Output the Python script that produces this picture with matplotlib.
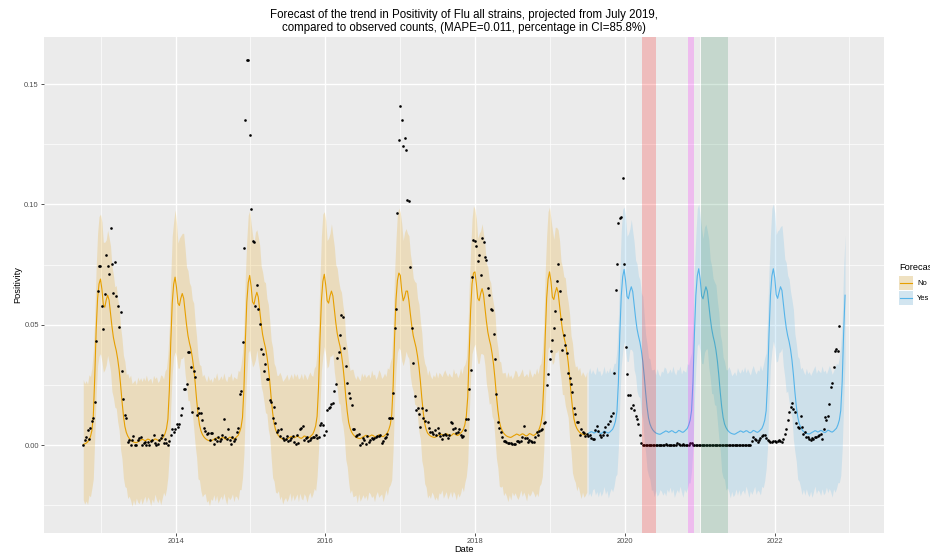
import numpy as np
import pandas as pd
import matplotlib
matplotlib.use('Agg')
import matplotlib.pyplot as plt
import matplotlib.dates as mdates
from matplotlib.patches import Rectangle
from matplotlib.lines import Line2D

plt.rcParams['font.family'] = ['Liberation Sans', 'DejaVu Sans']

# first Sunday of each block of weekly values
week_start = ['2012-10-07', '2013-01-06', '2014-01-05', '2015-01-04', '2016-01-03',
              '2017-01-01', '2018-01-07', '2019-01-06', '2020-01-05', '2021-01-03',
              '2022-01-02']

# observed positivity, per mille
obs_2012 = [0.0, 2.1, 3.2, 6.2, 2.5, 7.1, 10.2, 11.3, 18.0, 43.1, 64.2, 74.3, 74.6]
obs_2013 = [57.6, 48.2, 62.9, 78.8, 74.6, 71.1, 90.3, 75.3, 63.2, 76.1, 62.1, 57.9, 48.9,
            55.4, 30.7, 19.0, 12.4, 11.1, 1.1, 2.1, 0.0, 2.0, 3.6, 0.0, 0.0, 2.0,
            2.8, 3.5, 0.0, 0.7, 1.4, 0.0, 1.4, 0.0, 1.8, 2.1, 4.2, 1.0, 0.0,
            0.3, 2.1, 3.0, 4.2, 1.0, 2.6, 1.0, 0.0, 1.8, 4.2, 6.7, 5.3, 6.8]
obs_2014 = [8.7, 7.6, 8.7, 12.5, 15.6, 23.3, 23.3, 25.4, 38.5, 38.5, 32.3, 13.7, 30.6,
            28.2, 12.5, 15.6, 13.5, 13.2, 10.4, 7.2, 6.0, 4.6, 4.9, 2.1, 5.0, 5.0,
            0.4, 2.4, 1.8, 3.2, 1.5, 2.4, 4.2, 10.7, 3.5, 2.5, 6.5, 2.2, 0.5,
            3.5, 1.8, 2.4, 5.6, 7.1, 21.2, 22.5, 43.0, 82.0, 135.0, 160.0, 160.0, 128.7]
obs_2015 = [98.0, 85.0, 84.5, 58.0, 66.5, 56.4, 50.3, 40.0, 38.0, 30.7, 33.5, 27.6, 27.6,
            18.7, 17.8, 11.1, 16.0, 9.3, 5.6, 6.3, 3.9, 6.7, 3.0, 2.0, 2.5, 3.8,
            1.7, 2.0, 2.8, 3.8, 1.2, 0.6, 4.2, 1.0, 6.5, 7.0, 8.0, 2.2, 2.8,
            3.4, 1.7, 2.3, 3.0, 3.2, 3.5, 4.0, 2.9, 3.2, 8.5, 9.3, 8.2, 4.0]
obs_2016 = [5.8, 14.7, 15.5, 16.0, 16.9, 17.5, 22.6, 25.6, 36.3, 38.8, 45.6, 54.0, 53.3,
            40.4, 32.9, 25.8, 21.8, 19.7, 16.8, 6.7, 6.7, 3.9, 4.3, 4.8, 0.0, 1.0,
            3.0, 2.0, 0.5, 3.9, 1.2, 2.2, 3.0, 2.5, 2.8, 3.3, 3.6, 3.9, 4.0,
            1.0, 1.5, 3.0, 3.5, 4.5, 11.4, 11.4, 11.4, 21.5, 48.6, 56.7, 96.3, 126.7]
obs_2017 = [141.0, 135.0, 124.2, 127.6, 122.8, 101.9, 101.3, 74.0, 48.8, 34.3, 20.6, 14.6, 15.3,
            12.8, 7.6, 15.3, 11.1, 10.1, 14.4, 9.7, 7.2, 5.3, 5.5, 4.5, 6.4, 4.2,
            7.2, 5.0, 3.6, 2.6, 4.2, 4.6, 4.0, 3.1, 4.2, 9.7, 9.2, 6.5, 7.0,
            5.1, 5.5, 6.7, 4.3, 3.2, 3.8, 6.3, 10.7, 10.7, 23.5, 31.3, 69.9, 85.3, 84.7]
obs_2018 = [82.8, 76.5, 78.8, 70.6, 86.0, 84.3, 78.3, 76.8, 65.1, 62.2, 56.7, 56.0, 46.0,
            35.7, 21.2, 9.7, 7.0, 5.3, 3.5, 1.8, 1.8, 1.4, 1.0, 1.0, 0.7, 0.4,
            0.3, 0.6, 1.8, 1.5, 1.1, 1.5, 3.2, 8.0, 3.0, 3.1, 1.4, 2.1, 1.7,
            1.4, 1.1, 3.5, 5.3, 4.4, 6.0, 6.3, 6.6, 9.3, 9.5, 25.0, 29.6, 35.7]
obs_2019 = [39.3, 43.5, 48.6, 55.6, 68.4, 75.4, 64.1, 52.3, 39.6, 45.8, 41.7, 38.2, 29.9,
            27.8, 25.3, 22.2, 15.3, 12.9, 9.5, 9.5, 4.2, 6.7, 5.3, 4.9, 3.8, 4.6,
            3.7, 4.4, 2.9, 2.4, 2.7, 6.2, 7.9, 5.8, 4.4, 3.5, 4.4, 5.5, 7.5,
            4.4, 8.9, 10.0, 12.3, 13.4, 30.1, 64.3, 75.4, 92.4, 94.5, 94.9, 110.8, 75.4]
obs_2020 = [40.6, 29.6, 20.9, 20.9, 15.5, 16.6, 14.5, 12.3, 10.7, 8.6, 4.0, 1.0, 0.0,
            0.0, 0.0, 0.0, 0.0, 0.0, 0.0, 0.0, 0.0, 0.0, 0.0, 0.0, 0.0, 0.0,
            0.0, 0.0, 0.3, 0.0, 0.0, 0.0, 0.0, 0.0, 0.0, 0.0, 0.8, 0.3, 0.0,
            0.0, 0.6, 0.0, 0.0, 0.0, 0.0, 0.9, 0.8, 0.0, 0.0, 0.0, 0.0, 0.0]
obs_2021 = [0.0, 0.0, 0.0, 0.0, 0.2, 0.0, 0.0, 0.0, 0.0, 0.0, 0.0, 0.0, 0.0,
            0.0, 0.0, 0.0, 0.2, 0.0, 0.0, 0.0, 0.0, 0.0, 0.0, 0.0, 0.2, 0.0,
            0.0, 0.0, 0.0, 0.0, 0.0, 0.0, 0.0, 0.0, 0.0, 0.0, 1.7, 3.5, 2.6,
            2.1, 1.2, 2.1, 3.0, 3.7, 4.3, 4.0, 2.9, 2.1, 1.5, 1.2, 1.2, 1.5]
obs_2022 = [1.5, 1.2, 1.8, 2.1, 1.8, 1.4, 2.4, 4.8, 6.9, 10.4, 13.7, 15.9, 17.6,
            15.0, 13.6, 9.3, 7.6, 7.1, 12.0, 7.6, 4.8, 5.3, 3.5, 3.2, 2.6, 2.1,
            2.8, 2.6, 3.2, 3.5, 3.9, 4.2, 4.6, 2.4, 6.9, 11.8, 10.4, 12.0, 17.2,
            24.1, 25.8, 32.4, 38.9, 40.0, 39.0, 49.7]

# fitted / projected trend, per mille
trend_2012 = [0.3, 0.5, 0.8, 1.3, 2.2, 3.5, 6.0, 12.0, 28.0, 48.0, 61.0, 67.0, 69.0]
trend_2013 = [64.8, 58.3, 57.3, 60.3, 62.3, 60.3, 54.8, 49.3, 44.8, 41.8, 39.3, 35.8, 31.3,
              25.3, 18.3, 12.3, 7.8, 5.3, 3.8, 2.8, 2.1, 1.6, 1.3, 1.1, 1.0, 1.3,
              1.7, 2.0, 2.4, 2.2, 1.8, 2.1, 2.5, 2.3, 1.8, 1.6, 2.0, 2.6, 2.4,
              2.0, 1.8, 2.2, 2.8, 3.4, 4.8, 6.8, 10.8, 22.8, 42.8, 58.8, 66.8, 69.8]
trend_2014 = [65.5, 59.0, 58.0, 61.0, 63.0, 61.0, 55.5, 50.0, 45.5, 42.5, 40.0, 36.5, 32.0,
              26.0, 19.0, 13.0, 8.5, 6.0, 4.5, 3.5, 2.8, 2.3, 2.0, 1.8, 1.7, 2.0,
              2.4, 2.7, 3.1, 2.9, 2.5, 2.8, 3.2, 3.0, 2.5, 2.3, 2.7, 3.3, 3.1,
              2.7, 2.5, 2.9, 3.5, 4.1, 5.5, 7.5, 11.5, 23.5, 43.5, 59.5, 67.5, 70.5]
trend_2015 = [66.0, 59.5, 58.5, 61.5, 63.5, 61.5, 56.0, 50.5, 46.0, 43.0, 40.5, 37.0, 32.5,
              26.5, 19.5, 13.5, 9.0, 6.5, 5.0, 4.0, 3.3, 2.8, 2.5, 2.3, 2.2, 2.5,
              2.9, 3.2, 3.6, 3.4, 3.0, 3.3, 3.7, 3.5, 3.0, 2.8, 3.2, 3.8, 3.6,
              3.2, 3.0, 3.4, 4.0, 4.6, 6.0, 8.0, 12.0, 24.0, 44.0, 60.0, 68.0, 71.0]
trend_2016 = [66.5, 60.0, 59.0, 62.0, 64.0, 62.0, 56.5, 51.0, 46.5, 43.5, 41.0, 37.5, 33.0,
              27.0, 20.0, 14.0, 9.5, 7.0, 5.5, 4.5, 3.8, 3.3, 3.0, 2.8, 2.7, 3.0,
              3.4, 3.7, 4.1, 3.9, 3.5, 3.8, 4.2, 4.0, 3.5, 3.3, 3.7, 4.3, 4.1,
              3.7, 3.5, 3.9, 4.5, 5.1, 6.5, 8.5, 12.5, 24.5, 44.5, 60.5, 68.5, 71.5]
trend_2017 = [70.5, 64.0, 60.0, 61.5, 64.0, 64.0, 60.0, 54.5, 49.5, 45.5, 43.0, 40.5, 37.0,
              32.5, 26.5, 19.5, 13.5, 9.0, 6.5, 5.0, 4.3, 3.8, 3.5, 3.3, 3.2, 3.5,
              3.9, 4.2, 4.6, 4.4, 4.0, 4.3, 4.7, 4.5, 4.0, 3.8, 4.2, 4.8, 4.6,
              4.2, 4.0, 4.4, 5.0, 5.6, 6.6, 8.5, 12.0, 20.0, 38.0, 56.0, 67.0, 71.5, 72.0]
trend_2018 = [67.0, 61.0, 60.0, 63.0, 65.0, 62.5, 57.0, 51.5, 47.0, 44.0, 41.5, 38.0, 33.5,
              27.5, 20.5, 14.5, 10.0, 7.5, 6.0, 5.0, 4.3, 3.8, 3.5, 3.3, 3.2, 3.5,
              3.9, 4.2, 4.6, 4.4, 4.0, 4.3, 4.7, 4.5, 4.0, 3.8, 4.2, 4.8, 4.6,
              4.2, 4.0, 4.4, 5.0, 5.6, 7.0, 9.0, 13.0, 25.0, 45.0, 61.0, 69.0, 72.0]
trend_2019 = [68.0, 61.5, 60.5, 63.5, 65.5, 63.5, 58.0, 52.5, 48.0, 45.0, 42.5, 39.0, 34.5,
              28.5, 21.5, 15.5, 11.0, 8.5, 7.0, 6.0, 5.3, 4.8, 4.5, 4.3, 4.2, 4.5,
              4.9, 5.2, 5.6, 5.4, 5.0, 5.3, 5.7, 5.5, 5.0, 4.8, 5.2, 5.8, 5.6,
              5.2, 5.0, 5.4, 6.0, 6.6, 8.0, 10.0, 14.0, 26.0, 46.0, 62.0, 70.0, 73.0]
trend_2020 = [68.3, 61.8, 60.8, 63.8, 65.8, 63.8, 58.3, 52.8, 48.3, 45.3, 42.8, 39.3, 34.8,
              28.8, 21.8, 15.8, 11.3, 8.8, 7.3, 6.3, 5.6, 5.1, 4.8, 4.6, 4.5, 4.8,
              5.2, 5.5, 5.9, 5.7, 5.3, 5.6, 6.0, 5.8, 5.3, 5.1, 5.5, 6.1, 5.9,
              5.5, 5.3, 5.7, 6.3, 6.9, 8.3, 10.3, 14.3, 26.3, 46.3, 62.3, 70.3, 73.3]
trend_2021 = [69.0, 62.0, 60.8, 63.5, 65.8, 64.0, 58.5, 53.0, 48.5, 45.3, 42.8, 39.5, 35.0,
              29.0, 22.0, 16.0, 11.5, 8.8, 7.3, 6.3, 5.6, 5.1, 4.8, 4.6, 4.5, 4.8,
              5.2, 5.5, 5.9, 5.7, 5.3, 5.6, 6.0, 5.8, 5.3, 5.1, 5.5, 6.1, 5.9,
              5.5, 5.3, 5.7, 6.3, 6.9, 8.3, 10.3, 14.3, 26.3, 46.3, 62.3, 70.3, 73.3]
trend_2022 = [69.5, 62.5, 61.0, 63.5, 65.8, 64.3, 58.8, 53.3, 48.8, 45.5, 43.0, 39.8, 35.3,
              29.3, 22.3, 16.3, 11.8, 9.0, 7.5, 6.4, 5.7, 5.2, 4.9, 4.7, 4.6, 4.9,
              5.3, 5.6, 6.0, 5.8, 5.4, 5.7, 6.1, 5.9, 5.4, 5.2, 5.6, 6.2, 6.0,
              5.6, 5.4, 5.8, 6.4, 7.0, 8.4, 10.4, 14.4, 26.4, 46.4, 62.3]

# distance from the trend up to the top of the interval, per mille
ci_up_2012 = [27, 25, 26, 24, 27, 25, 26, 27, 25, 26, 27, 28, 27]
ci_up_2013 = [28, 26, 27, 25, 27, 26, 28, 25, 26, 24, 27, 25, 26,
              24, 26, 25, 27, 24, 26, 25, 27, 24, 25, 26, 24, 27,
              25, 26, 24, 26, 25, 27, 24, 25, 26, 24, 27, 25, 26,
              24, 25, 27, 26, 24, 26, 25, 27, 26, 27, 28, 26, 28]
ci_up_2014 = [27, 25, 28, 26, 25, 27, 26, 24, 27, 25, 26, 24, 27,
              25, 26, 24, 25, 27, 24, 26, 25, 24, 27, 25, 26, 24,
              26, 25, 27, 24, 25, 26, 24, 27, 25, 24, 26, 25, 27,
              24, 26, 25, 24, 27, 25, 26, 27, 25, 27, 26, 28, 27]
ci_up_2015 = [26, 28, 25, 27, 26, 25, 27, 24, 26, 25, 27, 24, 26,
              25, 24, 27, 25, 26, 24, 25, 27, 26, 24, 25, 26, 27,
              24, 25, 26, 24, 27, 25, 26, 24, 25, 27, 24, 26, 25,
              24, 26, 27, 25, 24, 26, 25, 27, 26, 25, 27, 28, 26]
ci_up_2016 = [27, 25, 27, 26, 28, 25, 26, 24, 27, 25, 24, 26, 25,
              27, 24, 26, 25, 24, 26, 27, 25, 24, 26, 25, 24, 27,
              25, 26, 24, 25, 26, 24, 27, 25, 26, 24, 25, 27, 26,
              24, 25, 26, 24, 27, 25, 26, 24, 26, 27, 25, 28, 27]
ci_up_2017 = [26, 28, 25, 27, 26, 24, 27, 25, 26, 24, 25, 27, 24,
              26, 25, 27, 24, 25, 26, 24, 27, 25, 24, 26, 25, 27,
              24, 26, 25, 24, 26, 27, 25, 24, 26, 25, 24, 27, 25,
              26, 24, 25, 27, 24, 26, 25, 24, 26, 27, 25, 27, 28, 26]
ci_up_2018 = [27, 25, 28, 26, 27, 25, 26, 24, 27, 25, 26, 24, 25,
              27, 24, 26, 25, 27, 24, 25, 26, 24, 27, 25, 26, 24,
              25, 27, 26, 24, 25, 26, 27, 24, 25, 26, 24, 27, 25,
              24, 26, 25, 27, 24, 26, 25, 26, 24, 27, 26, 28, 27]
ci_up_2019 = [26, 28, 25, 27, 25, 26, 27, 24, 26, 25, 27, 24, 25,
              26, 24, 27, 25, 24, 26, 25, 27, 24, 26, 25, 24, 26,
              25, 27, 24, 26, 25, 24, 27, 25, 26, 24, 25, 27, 24,
              26, 25, 27, 24, 25, 26, 24, 26, 27, 25, 27, 28, 26]
ci_up_2020 = [27, 25, 27, 26, 28, 25, 26, 24, 27, 25, 26, 24, 27,
              25, 24, 26, 25, 27, 24, 25, 26, 24, 27, 25, 24, 26,
              25, 27, 26, 24, 25, 26, 24, 27, 25, 24, 26, 25, 27,
              24, 26, 25, 24, 27, 25, 26, 24, 26, 27, 25, 28, 27]
ci_up_2021 = [26, 28, 25, 27, 26, 25, 27, 24, 26, 24, 25, 27, 25,
              26, 24, 27, 25, 26, 24, 25, 27, 26, 24, 25, 26, 24,
              27, 25, 24, 26, 25, 27, 24, 26, 25, 24, 26, 27, 25,
              24, 26, 25, 27, 24, 25, 26, 24, 27, 26, 25, 28, 27]
ci_up_2022 = [27, 25, 28, 26, 25, 27, 26, 24, 27, 25, 26, 24, 25,
              27, 24, 26, 25, 27, 24, 26, 25, 24, 27, 25, 26, 24,
              25, 26, 27, 24, 26, 25, 24, 27, 25, 26, 24, 25, 27,
              26, 24, 25, 26, 27, 25, 26, 27, 25, 27, 25]

# distance from the trend down to the bottom of the interval, per mille
ci_dn_2012 = [23, 25, 24, 26, 23, 25, 24, 26, 25, 27, 28, 30, 31]
ci_dn_2013 = [30, 28, 26, 27, 25, 26, 24, 27, 25, 26, 24, 26, 25,
              27, 24, 26, 25, 23, 26, 24, 25, 27, 24, 26, 23, 25,
              26, 24, 27, 25, 23, 26, 24, 25, 27, 24, 26, 23, 25,
              26, 24, 27, 25, 23, 26, 25, 24, 26, 27, 29, 30, 31]
ci_dn_2014 = [29, 27, 26, 25, 27, 24, 26, 25, 27, 24, 26, 23, 25,
              26, 24, 27, 23, 25, 26, 24, 23, 26, 25, 27, 24, 25,
              23, 26, 24, 27, 25, 24, 26, 23, 25, 27, 24, 26, 25,
              23, 26, 24, 25, 27, 24, 26, 25, 27, 28, 30, 29, 31]
ci_dn_2015 = [30, 27, 25, 26, 24, 27, 25, 26, 24, 25, 27, 24, 26,
              23, 25, 27, 24, 26, 25, 23, 26, 24, 27, 25, 24, 26,
              25, 23, 27, 24, 26, 25, 24, 27, 23, 25, 26, 24, 25,
              27, 24, 23, 26, 25, 24, 27, 25, 26, 28, 29, 31, 30]
ci_dn_2016 = [29, 28, 26, 25, 27, 24, 26, 25, 23, 26, 24, 27, 25,
              24, 26, 23, 25, 27, 24, 26, 25, 24, 27, 23, 26, 25,
              24, 26, 25, 27, 23, 24, 26, 25, 27, 24, 23, 26, 25,
              24, 27, 25, 23, 26, 24, 25, 27, 26, 27, 29, 30, 31]
ci_dn_2017 = [31, 29, 27, 26, 25, 27, 24, 26, 25, 23, 26, 24, 25,
              27, 24, 26, 23, 25, 24, 27, 25, 26, 23, 24, 26, 25,
              27, 24, 25, 23, 26, 25, 24, 27, 25, 23, 26, 24, 25,
              27, 24, 26, 25, 23, 26, 24, 25, 27, 26, 28, 29, 31, 30]
ci_dn_2018 = [29, 27, 26, 25, 27, 25, 24, 26, 25, 27, 24, 26, 23,
              25, 26, 24, 27, 25, 23, 26, 24, 25, 27, 24, 26, 23,
              25, 24, 26, 27, 25, 23, 26, 24, 25, 27, 24, 26, 25,
              23, 24, 26, 25, 27, 24, 25, 26, 27, 28, 30, 29, 31]
ci_dn_2019 = [30, 28, 26, 25, 27, 24, 26, 25, 27, 24, 26, 25, 23,
              26, 24, 27, 25, 24, 26, 23, 25, 27, 24, 26, 25, 24,
              26, 25, 27, 24, 23, 26, 25, 27, 24, 26, 25, 23, 26,
              24, 27, 25, 24, 26, 25, 23, 26, 27, 28, 29, 31, 30]
ci_dn_2020 = [29, 27, 26, 24, 26, 25, 27, 24, 26, 25, 23, 26, 24,
              27, 25, 26, 24, 23, 26, 25, 27, 24, 26, 25, 23, 24,
              26, 25, 27, 24, 25, 23, 26, 24, 27, 25, 24, 26, 23,
              25, 27, 24, 26, 25, 24, 26, 25, 27, 28, 30, 29, 31]
ci_dn_2021 = [30, 28, 27, 25, 26, 24, 26, 25, 27, 24, 26, 23, 25,
              26, 24, 27, 25, 23, 26, 24, 25, 27, 24, 26, 25, 23,
              26, 24, 27, 25, 24, 26, 23, 25, 27, 24, 26, 25, 23,
              26, 24, 25, 27, 24, 26, 25, 24, 27, 28, 29, 31, 30]
ci_dn_2022 = [29, 28, 26, 25, 27, 24, 26, 25, 27, 23, 25, 26, 24,
              27, 25, 23, 26, 24, 25, 27, 24, 26, 23, 25, 26, 24,
              27, 25, 23, 26, 24, 25, 27, 24, 26, 25, 23, 26, 24,
              25, 27, 24, 26, 25, 24, 26, 27, 28, 29, 28]

forecast_from = '2019-07-01'
lock_starts = ['2020-03-23', '2020-11-05', '2021-01-06']
lock_ends = ['2020-06-01', '2020-12-02', '2021-05-17']
lock_colors = ['red', 'magenta', 'seagreen']

title = ('Forecast of the trend in Positivity of Flu all strains, projected from July 2019,\n'
         'compared to observed counts, (MAPE=0.011, percentage in CI=85.8%)')

obs_blocks = [obs_2012, obs_2013, obs_2014, obs_2015, obs_2016, obs_2017,
              obs_2018, obs_2019, obs_2020, obs_2021, obs_2022]
trend_blocks = [trend_2012, trend_2013, trend_2014, trend_2015, trend_2016, trend_2017,
                trend_2018, trend_2019, trend_2020, trend_2021, trend_2022]
up_blocks = [ci_up_2012, ci_up_2013, ci_up_2014, ci_up_2015, ci_up_2016, ci_up_2017,
             ci_up_2018, ci_up_2019, ci_up_2020, ci_up_2021, ci_up_2022]
dn_blocks = [ci_dn_2012, ci_dn_2013, ci_dn_2014, ci_dn_2015, ci_dn_2016, ci_dn_2017,
             ci_dn_2018, ci_dn_2019, ci_dn_2020, ci_dn_2021, ci_dn_2022]

# build tables
obs_parts, fit_parts = [], []
for start, o, t, u, d in zip(week_start, obs_blocks, trend_blocks, up_blocks, dn_blocks):
    obs_parts.append(pd.DataFrame({'date': pd.date_range(start, periods=len(o), freq='7D'),
                                   'y': np.array(o) / 1000}))
    n = min(len(t), len(u), len(d))
    t = np.array(t[:n]) / 1000
    fit_parts.append(pd.DataFrame({'date': pd.date_range(start, periods=n, freq='7D'),
                                   'yhat': t,
                                   'hi': t + np.array(u[:n]) / 1000,
                                   'lo': t - np.array(d[:n]) / 1000}))
obs = pd.concat(obs_parts, ignore_index=True)
fit = pd.concat(fit_parts, ignore_index=True)
fit['fc'] = fit['date'] >= pd.Timestamp(forecast_from)

W, H = 930, 556
fig = plt.figure(figsize=(W / 100, H / 100), dpi=100)
fig.patch.set_facecolor('white')


def fx(px):
    return px / W


def fy(py):
    return 1 - py / H


L, R, T, B = 43.7, 884, 36.5, 532.7
ax = fig.add_axes([fx(L), fy(B), fx(R) - fx(L), fy(T) - fy(B)])
ax.set_facecolor('#EBEBEB')
for s in ax.spines.values():
    s.set_visible(False)

orange, blue = '#E69F00', '#56B4E9'
for flag, col in [(False, orange), (True, blue)]:
    part = fit[fit['fc'] == flag]
    ax.fill_between(part['date'], part['lo'], part['hi'], color=col, alpha=0.2,
                    linewidth=0, zorder=2)
    ax.plot(part['date'], part['yhat'], color=col, lw=0.8, zorder=3)

ax.scatter(obs['date'], obs['y'], s=3.6, color='black', linewidths=0, zorder=4)

for a, b, c in zip(lock_starts, lock_ends, lock_colors):
    ax.axvspan(pd.Timestamp(a), pd.Timestamp(b), color=c, alpha=0.2, lw=0, zorder=5)

ax.set_xlim(pd.Timestamp('2012-03-28'), pd.Timestamp('2023-06-19'))
ax.set_ylim(-0.0364, 0.1698)

ax.xaxis.set_major_locator(mdates.YearLocator(2))
ax.xaxis.set_major_formatter(mdates.DateFormatter('%Y'))
minor_years = [pd.Timestamp(f'{y}-01-01') for y in range(2013, 2024, 2)]
ax.set_xticks(minor_years, minor=True)
ax.set_yticks([0.0, 0.05, 0.10, 0.15])
ax.set_yticks([-0.025, 0.025, 0.075, 0.125], minor=True)
ax.set_yticklabels(['0.00', '0.05', '0.10', '0.15'])

ax.grid(which='major', color='white', lw=1.0)
ax.grid(which='minor', color='white', lw=0.5)
ax.set_axisbelow(True)
ax.tick_params(which='major', length=2.0, width=0.6, color='#333333',
               labelsize=5.4, labelcolor='#4D4D4D', pad=1.5)
ax.tick_params(which='minor', length=0)

fig.text(fx((L + R) / 2), fy(21.5), title, ha='center', va='center',
         fontsize=8.3, color='black', linespacing=1.15)
fig.text(fx((L + R) / 2), fy(549), 'Date', ha='center', va='center',
         fontsize=6.7, color='black')
fig.text(fx(18), fy((T + B) / 2), 'Positivity', ha='center', va='center',
         rotation=90, fontsize=6.7, color='black')

# legend drawn by hand at the right edge (cut by the figure edge, as in the source)
fig.text(fx(899), fy(268), 'Forecast', ha='left', va='center', fontsize=6.7)
for i, (lab, col) in enumerate([('No', orange), ('Yes', blue)]):
    y0 = 276 + i * 15
    fig.patches.append(Rectangle((fx(899), fy(y0 + 14)), 14 / W, 14 / H,
                                 transform=fig.transFigure, facecolor='#F2F2F2',
                                 edgecolor='none'))
    fig.patches.append(Rectangle((fx(899), fy(y0 + 14)), 14 / W, 14 / H,
                                 transform=fig.transFigure, facecolor=col, alpha=0.2,
                                 edgecolor='none'))
    fig.lines.append(Line2D([fx(900), fx(912)], [fy(y0 + 7), fy(y0 + 7)],
                            transform=fig.transFigure, color=col, lw=0.8))
    fig.text(fx(917), fy(y0 + 7), lab, ha='left', va='center', fontsize=5.4)

fig.savefig('out.png', dpi=100)
